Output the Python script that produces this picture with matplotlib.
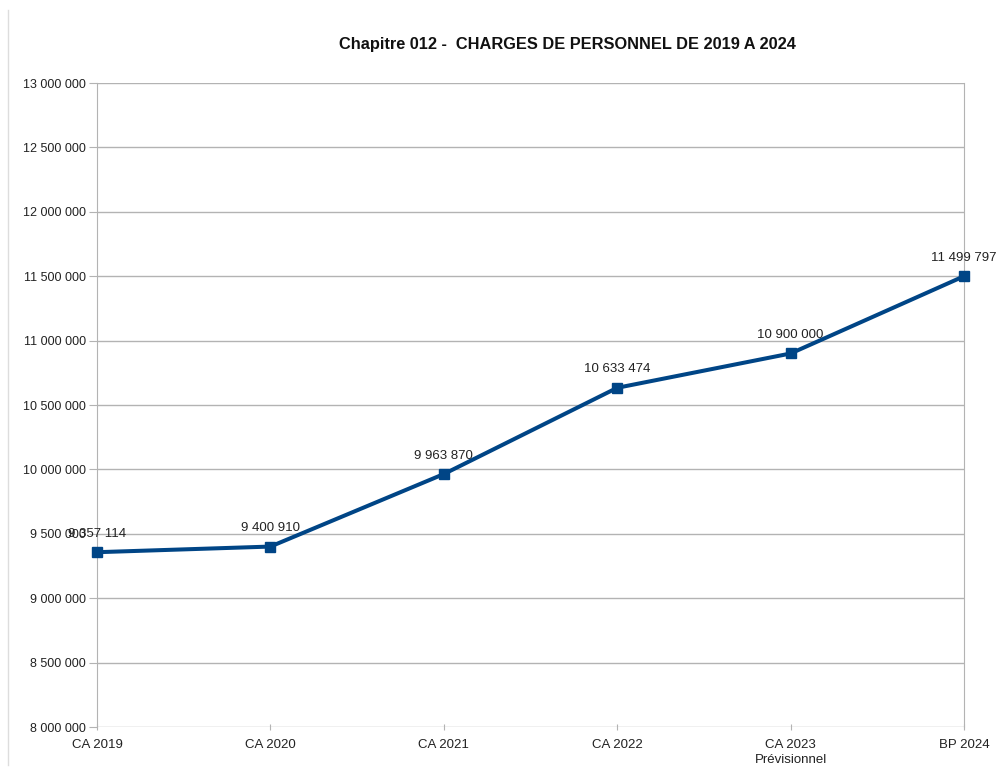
import matplotlib
matplotlib.use("Agg")
import matplotlib.pyplot as plt
from matplotlib.lines import Line2D
from matplotlib.ticker import FuncFormatter

categories = ["CA 2019", "CA 2020", "CA 2021", "CA 2022", "CA 2023\nPrévisionnel", "BP 2024"]
values = [9357114, 9400910, 9963870, 10633474, 10900000, 11499797]
yticks = [8000000, 8500000, 9000000, 9500000, 10000000, 10500000, 11000000, 11500000, 12000000, 12500000, 13000000]
title = "Chapitre 012 -  CHARGES DE PERSONNEL DE 2019 A 2024"

plt.rcParams['font.family'] = ['Liberation Sans', 'DejaVu Sans']

def fmt(v):
    return f"{int(round(v)):,}".replace(",", " ")

fig = plt.figure(figsize=(10.03, 7.78), dpi=100)
ax = fig.add_axes([97/1003, 51/778, (964-97)/1003, (727-83)/778])

x = list(range(len(categories)))
ax.plot(x, values, color="#004586", linewidth=2.9, marker="s", markersize=7.5,
        markerfacecolor="#004586", markeredgecolor="#004586", zorder=3, clip_on=False)

for xi, v in zip(x, values):
    ax.annotate(fmt(v), (xi, v), xytext=(0, 9), textcoords="offset points",
                ha="center", va="bottom", fontsize=9.5, color="#222222")

ax.set_xlim(0, 5)
ax.set_ylim(8000000, 13000000)
ax.set_yticks(yticks)
ax.yaxis.set_major_formatter(FuncFormatter(lambda v, p: fmt(v)))
ax.set_xticks(x)
ax.set_xticklabels(categories, linespacing=1.35)

ax.grid(axis="y", color="#b3b3b3", linewidth=1)
ax.set_axisbelow(True)
for s in ["top", "bottom"]:
    ax.spines[s].set_visible(False)
ax.spines["left"].set_color("#b3b3b3")
ax.spines["right"].set_color("#b3b3b3")
ax.tick_params(axis="y", length=6, color="#b3b3b3", labelsize=9, labelcolor="#222222", pad=2)
ax.tick_params(axis="x", length=5, direction="inout", color="#b3b3b3", labelsize=9.5, labelcolor="#222222", pad=6)

fig.text(567/1003, 1 - 45/778, title, ha="center", va="center", fontsize=11.8, fontweight="bold", color="#111111")

fig.add_artist(Line2D([8/1003, 8/1003], [1 - 10/778, 1 - 765/778], color="#dddddd", linewidth=1))

fig.savefig("out.png", dpi=100, facecolor="white")
